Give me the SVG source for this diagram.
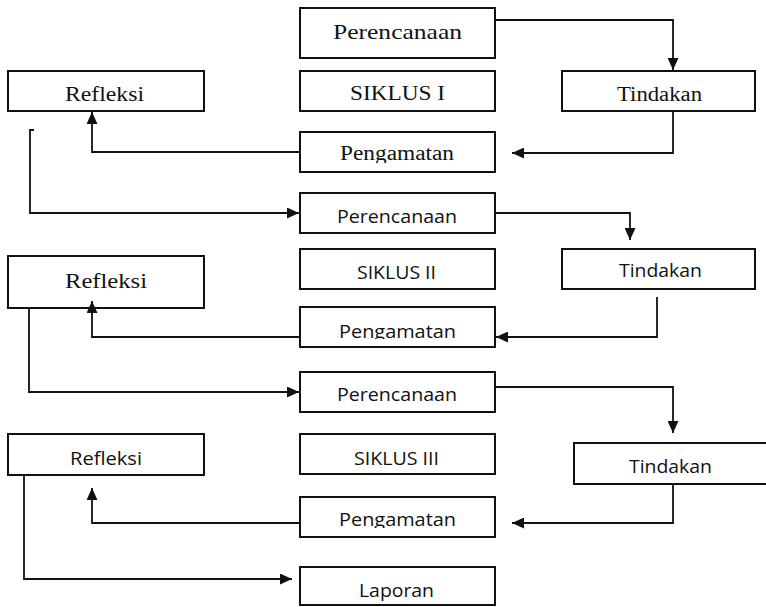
<svg xmlns="http://www.w3.org/2000/svg" width="766" height="607" viewBox="0 0 766 607">
<style>
.box{fill:#fff;stroke:#111;stroke-width:2}
.serif{font-family:"Liberation Serif","Times New Roman",serif;fill:#111}
.sans{font-family:"Open Sans","Liberation Sans",sans-serif;font-size:19px;fill:#111}
.conn path{fill:none;stroke:#111;stroke-width:1.8;marker-end:url(#ah)}
</style>
<defs>
<marker id="ah" markerWidth="12" markerHeight="11" refX="12" refY="5.5" orient="auto" markerUnits="userSpaceOnUse">
<path d="M0,0 L12,5.5 L0,11 z" fill="#111"/>
</marker>
<clipPath id="clipP1" clipPathUnits="userSpaceOnUse"><rect x="300" y="133" width="194" height="30"/></clipPath>
<clipPath id="clipP2" clipPathUnits="userSpaceOnUse"><rect x="300" y="308" width="194" height="31"/></clipPath>
<clipPath id="clipP3" clipPathUnits="userSpaceOnUse"><rect x="300" y="498" width="194" height="30"/></clipPath>
</defs>

<g id="perencanaan1"><rect class="box" x="300" y="8" width="195" height="50"/><text class="serif" x="333" y="39" font-size="22" textLength="129" lengthAdjust="spacingAndGlyphs">Perencanaan</text></g>
<g id="siklus1"><rect class="box" x="300" y="71" width="195" height="40"/><text class="serif" x="350" y="100" font-size="20" textLength="95" lengthAdjust="spacingAndGlyphs">SIKLUS I</text></g>
<g id="pengamatan1"><rect class="box" x="300" y="132" width="195" height="40"/><text class="serif" x="340" y="160" font-size="20" textLength="114" lengthAdjust="spacingAndGlyphs" clip-path="url(#clipP1)">Pengamatan</text></g>
<g id="refleksi1"><rect class="box" x="8" y="71" width="196" height="40"/><text class="serif" x="65" y="100.5" font-size="20" textLength="79" lengthAdjust="spacingAndGlyphs">Refleksi</text></g>
<g id="tindakan1"><rect class="box" x="562" y="71" width="193" height="40"/><text class="serif" x="617" y="100.5" font-size="20" textLength="85" lengthAdjust="spacingAndGlyphs">Tindakan</text></g>

<g id="perencanaan2"><rect class="box" x="300" y="193" width="195" height="40"/><text class="sans" x="337" y="223" textLength="120" lengthAdjust="spacingAndGlyphs">Perencanaan</text></g>
<g id="siklus2"><rect class="box" x="300" y="249" width="195" height="40"/><text class="sans" x="357" y="279" textLength="79" lengthAdjust="spacingAndGlyphs">SIKLUS II</text></g>
<g id="pengamatan2"><rect class="box" x="300" y="307" width="195" height="40"/><text class="sans" x="339" y="338" textLength="117" lengthAdjust="spacingAndGlyphs" clip-path="url(#clipP2)">Pengamatan</text></g>
<g id="refleksi2"><rect class="box" x="8" y="256" width="196" height="52"/><text class="serif" x="65" y="288" font-size="22" textLength="82" lengthAdjust="spacingAndGlyphs">Refleksi</text></g>
<g id="tindakan2"><rect class="box" x="562" y="249" width="193" height="40"/><text class="sans" x="619" y="277" textLength="83" lengthAdjust="spacingAndGlyphs">Tindakan</text></g>

<g id="perencanaan3"><rect class="box" x="300" y="372" width="195" height="40"/><text class="sans" x="337" y="401" textLength="120" lengthAdjust="spacingAndGlyphs">Perencanaan</text></g>
<g id="siklus3"><rect class="box" x="300" y="434" width="195" height="40"/><text class="sans" x="354" y="465" textLength="85" lengthAdjust="spacingAndGlyphs">SIKLUS III</text></g>
<g id="pengamatan3"><rect class="box" x="300" y="497" width="195" height="40"/><text class="sans" x="339" y="526" textLength="117" lengthAdjust="spacingAndGlyphs" clip-path="url(#clipP3)">Pengamatan</text></g>
<g id="refleksi3"><rect class="box" x="8" y="434" width="196" height="41"/><text class="sans" x="70" y="464.5" textLength="72" lengthAdjust="spacingAndGlyphs">Refleksi</text></g>
<g id="tindakan3"><rect class="box" x="574" y="443" width="200" height="41"/><text class="sans" x="629" y="473" textLength="83" lengthAdjust="spacingAndGlyphs">Tindakan</text></g>
<g id="laporan"><rect class="box" x="300" y="567" width="195" height="38"/><text class="sans" x="359" y="597" textLength="75" lengthAdjust="spacingAndGlyphs">Laporan</text></g>

<g class="conn" id="connectors">
<path d="M495,20 H673 V70"/>
<path d="M673,111 V153 H512"/>
<path d="M300,152 H92 V112"/>
<path d="M34,130 H30 V213 H299"/>
<path d="M495,213 H630 V240"/>
<path d="M657,297 V337 H496"/>
<path d="M300,337 H92 V301"/>
<path d="M29,308 V392 H299"/>
<path d="M495,387 H673 V433"/>
<path d="M673,484 V523 H512"/>
<path d="M300,523 H92 V488"/>
<path d="M24,475 V579 H292"/>
</g>
</svg>
